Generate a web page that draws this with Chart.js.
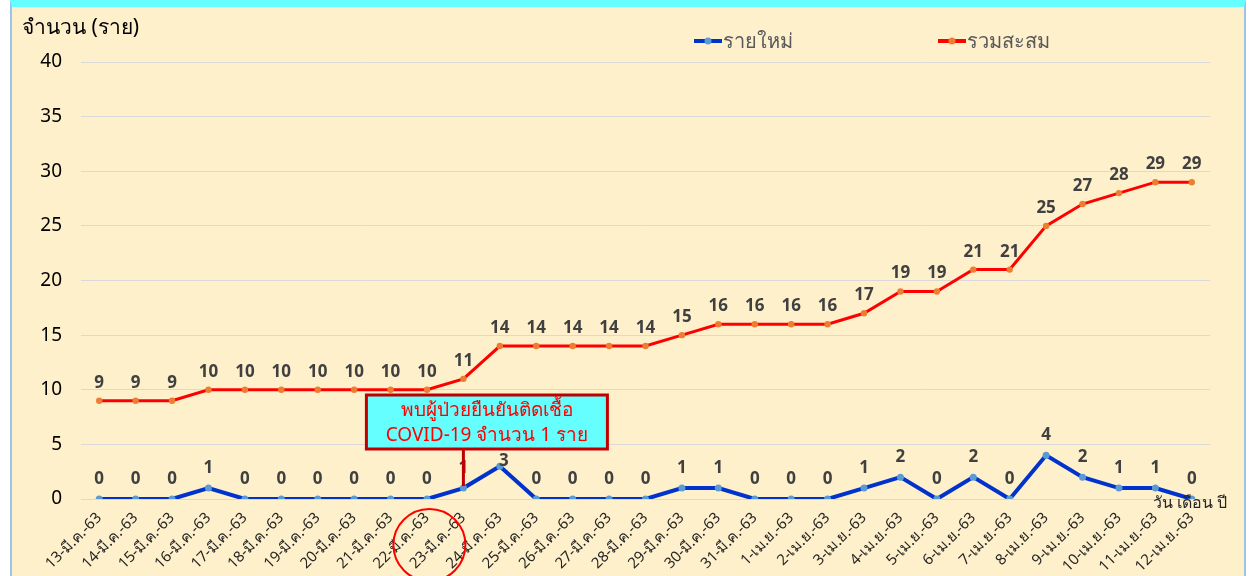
<!DOCTYPE html>
<html>
<head>
<meta charset="utf-8">
<script src="https://cdn.jsdelivr.net/npm/chart.js@4"></script>
<style>
  html, body { margin: 0; padding: 0; background: #fff; }
  .frame {
    position: absolute; left: 10px; top: 0; width: 1236px; height: 576px;
    background: #fff0cc;
    border-left: 2px solid #9dc3e6; border-right: 2px solid #9dc3e6;
    border-top: 7px solid #66ffff; box-sizing: border-box;
  }
  .wrap { position: absolute; left: 0; top: 0; width: 1259px; height: 576px; }
</style>
</head>
<body>
<div class="frame"></div>
<div class="wrap"><canvas id="covidChart" width="1259" height="576"></canvas></div>
<script>
const days = ['13-มี.ค.-63', '14-มี.ค.-63', '15-มี.ค.-63', '16-มี.ค.-63', '17-มี.ค.-63', '18-มี.ค.-63',
    '19-มี.ค.-63', '20-มี.ค.-63', '21-มี.ค.-63', '22-มี.ค.-63', '23-มี.ค.-63', '24-มี.ค.-63',
    '25-มี.ค.-63', '26-มี.ค.-63', '27-มี.ค.-63', '28-มี.ค.-63', '29-มี.ค.-63', '30-มี.ค.-63',
    '31-มี.ค.-63', '1-เม.ย.-63', '2-เม.ย.-63', '3-เม.ย.-63', '4-เม.ย.-63', '5-เม.ย.-63',
    '6-เม.ย.-63', '7-เม.ย.-63', '8-เม.ย.-63', '9-เม.ย.-63', '10-เม.ย.-63', '11-เม.ย.-63', '12-เม.ย.-63']
const newCases = [0, 0, 0, 1, 0, 0, 0, 0, 0, 0, 1, 3, 0, 0, 0, 0, 1, 1, 0, 0, 0, 1, 2, 0, 2, 0, 4, 2, 1, 1, 0]
const totalCases = [9, 9, 9, 10, 10, 10, 10, 10, 10, 10, 11, 14, 14, 14, 14, 14, 15, 16, 16, 16, 16, 17, 19, 19, 21, 21, 25, 27, 28, 29, 29]
const yTicks = [0, 5, 10, 15, 20, 25, 30, 35, 40]

const FONT = "'Noto Sans', 'Open Sans', sans-serif"
const noteIndex = 10 // 23-มี.ค.

// values above points, annotation, legend and extra titles
const extras = {
    id: 'extras',
    afterDatasetsDraw(chart) {
        const ctx = chart.ctx
        ctx.save()
        ctx.font = 'bold 17px ' + FONT
        ctx.fillStyle = '#404040'
        ctx.textAlign = 'center'
        ctx.textBaseline = 'alphabetic'
        chart.data.datasets.forEach((ds, i) => {
            chart.getDatasetMeta(i).data.forEach((pt, j) => {
                let dx = 0, dy = i === 0 ? 15 : 13
                if (i === 0 && j === noteIndex + 1) { dx = 4; dy = 0 } // pushed down under the callout
                ctx.fillText(String(ds.data[j]), pt.x + dx, pt.y - dy)
            })
        })
        ctx.restore()
    },
    afterDraw(chart) {
        const ctx = chart.ctx
        const x = chart.scales.x
        ctx.save()

        // annotation box + pointer line
        const pt = chart.getDatasetMeta(0).data[noteIndex]
        const bx = pt.x - 97, by = 395, bw = 241, bh = 54
        ctx.strokeStyle = '#c00000'
        ctx.lineWidth = 3
        ctx.beginPath()
        ctx.moveTo(pt.x, by + bh)
        ctx.lineTo(pt.x, pt.y - 2)
        ctx.stroke()
        ctx.fillStyle = '#66ffff'
        ctx.fillRect(bx, by, bw, bh)
        ctx.strokeRect(bx, by, bw, bh)
        ctx.fillStyle = '#ff0000'
        ctx.font = '19px ' + FONT
        ctx.textAlign = 'center'
        ctx.textBaseline = 'middle'
        ctx.fillText('พบผู้ป่วยยืนยันติดเชื้อ', bx + bw / 2, by + 16)
        ctx.fillText('COVID-19 จำนวน 1 ราย', bx + bw / 2, by + 41)

        // red circle around the date
        ctx.strokeStyle = '#ff0000'
        ctx.lineWidth = 2
        ctx.beginPath()
        ctx.arc(x.getPixelForValue(noteIndex) - 34, 545, 36, 0, Math.PI * 2)
        ctx.stroke()

        // legend
        const legend = [
            {text: 'รายใหม่', line: '#0033cc', dot: '#5b9bd5', x: 694},
            {text: 'รวมสะสม', line: '#ff0000', dot: '#ed7d31', x: 938}
        ]
        ctx.font = '20px ' + FONT
        ctx.textAlign = 'left'
        legend.forEach(l => {
            ctx.strokeStyle = l.line
            ctx.lineWidth = 4
            ctx.beginPath()
            ctx.moveTo(l.x, 41)
            ctx.lineTo(l.x + 28, 41)
            ctx.stroke()
            ctx.fillStyle = l.dot
            ctx.beginPath()
            ctx.arc(l.x + 14, 41, 3.5, 0, Math.PI * 2)
            ctx.fill()
            ctx.fillStyle = '#595959'
            ctx.fillText(l.text, l.x + 29, 42)
        })

        // axis titles
        ctx.fillStyle = '#000'
        ctx.font = '21px ' + FONT
        ctx.fillText('จำนวน (ราย)', 22, 28)
        ctx.fillStyle = '#262626'
        ctx.font = '16px ' + FONT
        ctx.fillText('วัน เดือน ปี', 1153, 503)
        ctx.restore()
    }
}

new Chart(document.getElementById('covidChart'), {
    type: 'line',
    data: {
        labels: days,
        datasets: [{
            label: 'รายใหม่',
            data: newCases,
            borderColor: '#0033cc',
            borderWidth: 4,
            pointBackgroundColor: '#5b9bd5',
            pointBorderWidth: 0,
            pointRadius: 3.5,
            tension: 0
        },
            {
                label: 'รวมสะสม',
                data: totalCases,
                borderColor: '#ff0000',
                borderWidth: 3,
                pointBackgroundColor: '#ed7d31',
                pointBorderWidth: 0,
                pointRadius: 3.2,
                tension: 0
            }]
    },
    options: {
        responsive: false,
        animation: false,
        layout: {padding: {left: 0, right: 49, top: 62, bottom: 0}},
        plugins: {
            legend: {display: false},
            tooltip: {enabled: false}
        },
        scales: {
            x: {
                offset: true,
                grid: {display: false},
                border: {display: false},
                ticks: {
                    minRotation: 45,
                    maxRotation: 45,
                    autoSkip: false,
                    color: '#262626',
                    font: {family: FONT, size: 15},
                    padding: 2
                },
                afterFit: s => { s.height = 77 }
            },
            y: {
                min: 0,
                max: 40,
                afterBuildTicks: s => { s.ticks = yTicks.map(v => ({value: v})) },
                grid: {color: '#d9d9d9', drawTicks: false},
                border: {display: false},
                ticks: {
                    color: '#000',
                    font: {family: FONT, size: 19},
                    padding: 19
                },
                afterFit: s => { s.width = 81 }
            }
        }
    },
    plugins: [extras]
})
</script>
</body>
</html>
